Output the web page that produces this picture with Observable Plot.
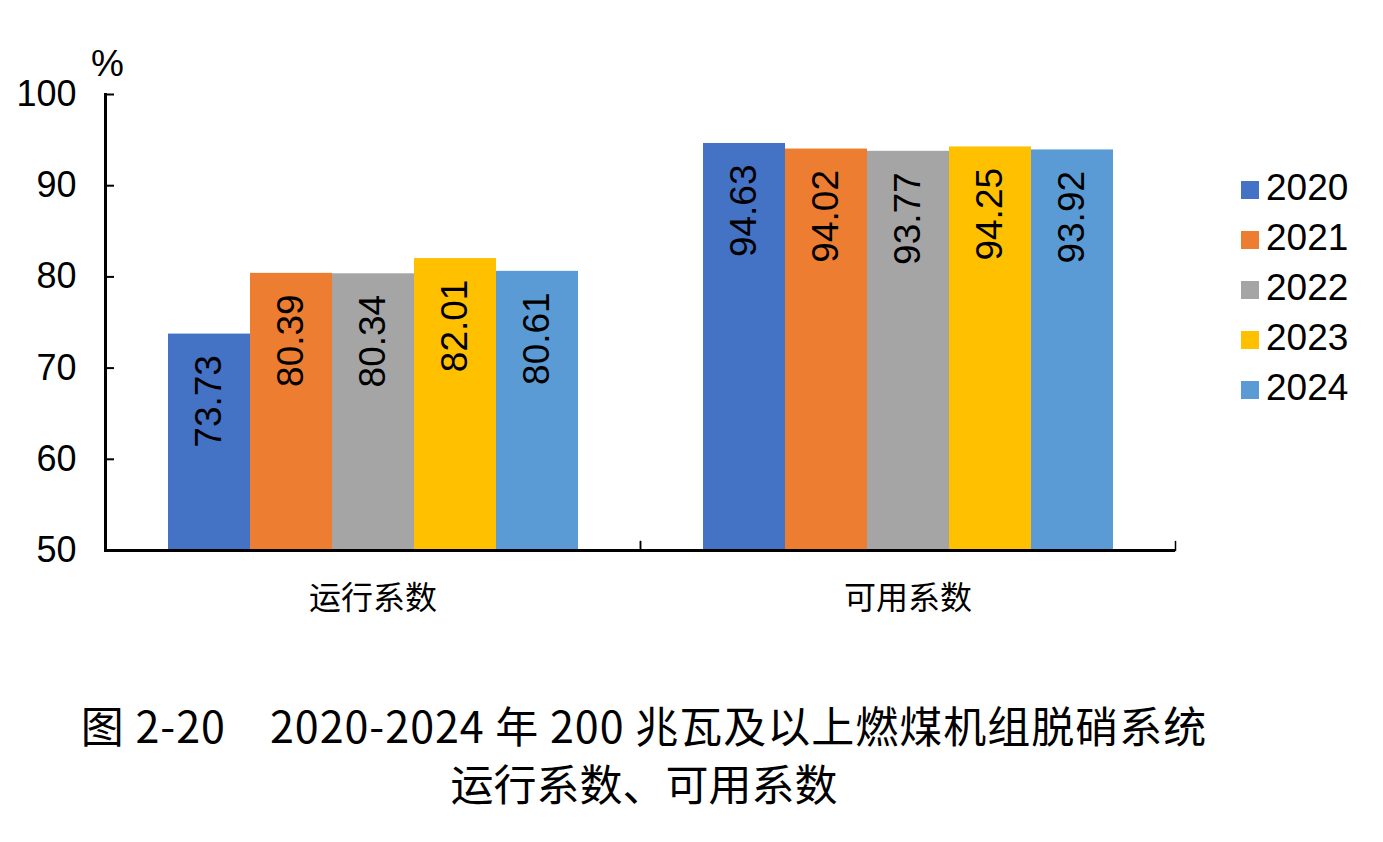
<!DOCTYPE html>
<html>
<head>
<meta charset="utf-8">
<script src="https://cdn.jsdelivr.net/npm/d3@7"></script>
<script src="https://cdn.jsdelivr.net/npm/@observablehq/plot@0.6"></script>
<style>
  html, body { margin: 0; padding: 0; background: #fff; }
  #wrap { position: relative; width: 1383px; height: 842px; background: #fff; overflow: hidden; }
  #chart { position: absolute; left: 0; top: 0; }
  #legend { position: absolute; left: 1241px; top: 163px; font-family: "Liberation Sans", Arial, sans-serif; font-size: 37px; color: #000; }
  #legend .row { display: flex; align-items: center; height: 50px; }
  #legend .sw { width: 18px; height: 18px; margin-right: 7px; margin-top: 3px; }
  #title { position: absolute; left: 0; top: 695px; width: 1288px; text-align: center;
           font-family: "Noto Sans CJK SC", sans-serif; font-size: 43px; line-height: 58px; color: #000; }
  #title .l1 { letter-spacing: 1px; }
</style>
</head>
<body>
<div id="wrap">
  <div id="chart"></div>
  <div id="legend"></div>
  <div id="title"></div>
</div>
<script>
// Categories, series and values
const categories = ["运行系数", "可用系数"];
const years = ["2020", "2021", "2022", "2023", "2024"];
const runningRate = [73.73, 80.39, 80.34, 82.01, 80.61];     // 运行系数
const availableRate = [94.63, 94.02, 93.77, 94.25, 93.92];   // 可用系数
const yearColors = ["#4472C4", "#ED7D31", "#A5A5A5", "#FFC000", "#5B9BD5"];
const yTicks = [50, 60, 70, 80, 90, 100];
const unitLabel = "%";
const titleLines = [
  "图 2-20\u30002020-2024 年 200 兆瓦及以上燃煤机组脱硝系统",
  "运行系数、可用系数"
];

const seriesByCategory = [runningRate, availableRate];
const rows = categories.flatMap((category, ci) =>
  years.map((year, yi) => ({category, year, value: seriesByCategory[ci][yi]}))
);

const latin = "'Liberation Sans', Arial, sans-serif";
const cjk = "'Noto Sans CJK SC', sans-serif";

// plain straight tick, no arrowhead
const tickShape = {
  draw(context, l) {
    context.moveTo(0, 0);
    context.lineTo(0, -l);
  }
};

const chart = Plot.plot({
  width: 1383,
  height: 640,
  marginTop: 94,
  marginBottom: 90,
  marginLeft: 105,
  marginRight: 208,
  style: {fontFamily: latin, background: "transparent", color: "#000", overflow: "visible"},
  fx: {domain: categories, padding: 0, label: null},
  x: {domain: years, paddingInner: 0, paddingOuter: 0.745, axis: null},
  y: {domain: [yTicks[0], yTicks[yTicks.length - 1]], axis: null},
  color: {domain: years, range: yearColors},
  marks: [
    // bars
    Plot.barY(rows, {fx: "category", x: "year", y1: yTicks[0], y2: "value", fill: "year", inset: 0}),
    // value labels, rotated inside the top of each bar
    Plot.text(rows, {
      fx: "category", x: "year", y: "value",
      text: d => d.value.toFixed(2),
      rotate: -90, textAnchor: "end", dy: 21,
      fontSize: 37, fill: "#000"
    }),
    // y axis line (first facet only)
    Plot.frame({anchor: "left", facetAnchor: "left", stroke: "#000", strokeWidth: 3}),
    // inward y ticks (shifted right so they sit inside the frame)
    Plot.axisY({ticks: yTicks, tickSize: 9, dx: 9, tickFormat: () => "", strokeWidth: 2, label: null}),
    // y tick labels
    Plot.axisY({ticks: yTicks, tickSize: 0, tickPadding: 29, fontSize: 36, label: null}),
    // unit
    Plot.text([unitLabel], {text: d => d, frameAnchor: "top-left", facetAnchor: "left",
      dx: 2, dy: -19, textAnchor: "middle", lineAnchor: "bottom", fontSize: 37, fill: "#000"}),
    // x axis baseline
    Plot.ruleY([yTicks[0]], {stroke: "#000", strokeWidth: 3}),
    // category boundary ticks
    Plot.vector([0], {frameAnchor: "bottom-left", length: 9, anchor: "start", shape: tickShape,
      stroke: "#000", strokeWidth: 1.5}),
    Plot.vector([0], {frameAnchor: "bottom-right", length: 9, anchor: "start", shape: tickShape,
      stroke: "#000", strokeWidth: 1.5}),
    // category labels
    Plot.axisFx({anchor: "bottom", tickSize: 0, tickPadding: 36, fontSize: 32, fontFamily: cjk, label: null})
  ]
});
document.getElementById("chart").appendChild(chart);

// legend
const legend = d3.select("#legend");
years.forEach((year, i) => {
  const row = legend.append("div").attr("class", "row");
  row.append("div").attr("class", "sw").style("background", yearColors[i]);
  row.append("span").text(year);
});

// caption
const title = d3.select("#title");
titleLines.forEach((line, i) => title.append("div").attr("class", "l" + (i + 1)).text(line));
</script>
</body>
</html>
